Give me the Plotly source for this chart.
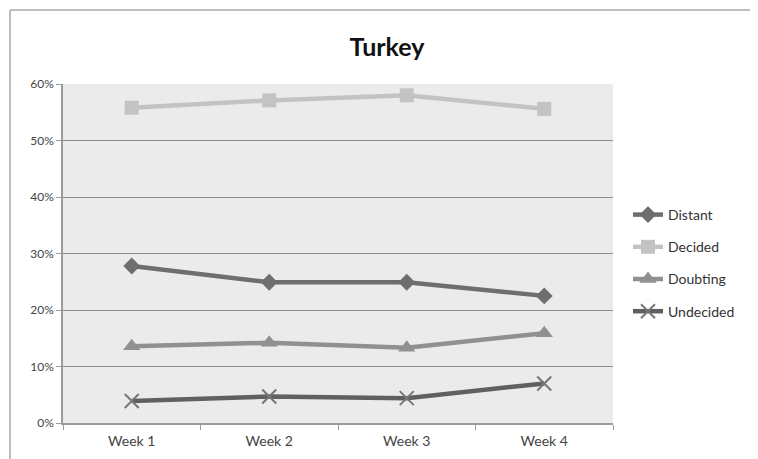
import plotly.graph_objects as go

weeks = ["Week 1", "Week 2", "Week 3", "Week 4"]
distant = [0.278, 0.249, 0.249, 0.225]
decided = [0.558, 0.571, 0.580, 0.556]
doubting = [0.136, 0.142, 0.133, 0.159]
undecided = [0.039, 0.047, 0.044, 0.070]

series = [
    ("Distant", distant, "#6e6e6e", "diamond", 13),
    ("Decided", decided, "#c3c3c3", "square", 14),
    ("Doubting", doubting, "#909090", "triangle-up", 15),
    ("Undecided", undecided, "#606060", "x-thin", 14),
]

fig = go.Figure()
for i, (name, vals, col, sym, sz) in enumerate(series):
    marker = dict(symbol=sym, size=sz, color=col)
    if sym == "x-thin":
        marker["line"] = dict(color="#777777", width=2)
    fig.add_trace(go.Scatter(
        x=weeks, y=vals, name=name, mode="lines+markers",
        line=dict(color=col, width=4.5),
        marker=marker, legendgroup=f"g{i}",
    ))

# page has an 8px body margin; figure coordinates below are page coords minus 8
W, H = 750, 451
L, R, T, B = 55, 605, 76, 415

def px(x):
    return (x - L) / (R - L)

def py(y):
    return (B - y) / (B - T)

fig.update_layout(
    width=W, height=H,
    margin=dict(l=L, r=W - R, t=T, b=H - B, autoexpand=False),
    paper_bgcolor="white",
    plot_bgcolor="#ebebeb",
    font=dict(family="Lato, Open Sans, sans-serif", color="#333333"),
    title=dict(text="<b>Turkey</b>", x=379 / W, xanchor="center",
               y=1 - 39 / H, yanchor="middle", yref="container",
               font=dict(size=25, color="#111111", family="Lato, Open Sans, sans-serif")),
    showlegend=True,
    legend=dict(x=px(620), xanchor="left", y=py(191), yanchor="top",
                bgcolor="rgba(0,0,0,0)", font=dict(size=14, color="#333333"),
                traceorder="grouped", tracegroupgap=11, itemwidth=30),
    xaxis=dict(range=[-0.5, 3.5], showgrid=False, showline=True, linecolor="#9a9a9a", linewidth=1.5,
               ticks="outside", tickson="boundaries", ticklen=5, tickcolor="#9a9a9a",
               ticklabelstandoff=4, automargin=False,
               tickfont=dict(size=14, color="#444444"), fixedrange=True),
    yaxis=dict(range=[0, 0.6], dtick=0.1, tickformat=".0%", showgrid=True,
               gridcolor="#8c8c8c", gridwidth=1.2, showline=True, linecolor="#9a9a9a",
               linewidth=1.5, ticks="outside", ticklen=5, tickcolor="#9a9a9a",
               automargin=False,
               tickfont=dict(size=12, color="#444444"), zeroline=False, fixedrange=True),
    shapes=[
        dict(type="line", xref="paper", yref="paper", x0=px(2), x1=px(W + 10),
             y0=py(2), y1=py(2), line=dict(color="#aaaaaa", width=1.5)),
        dict(type="line", xref="paper", yref="paper", x0=px(2), x1=px(2),
             y0=py(2), y1=py(H + 10), line=dict(color="#aaaaaa", width=1.5)),
    ],
)

fig.write_html("out.html")
